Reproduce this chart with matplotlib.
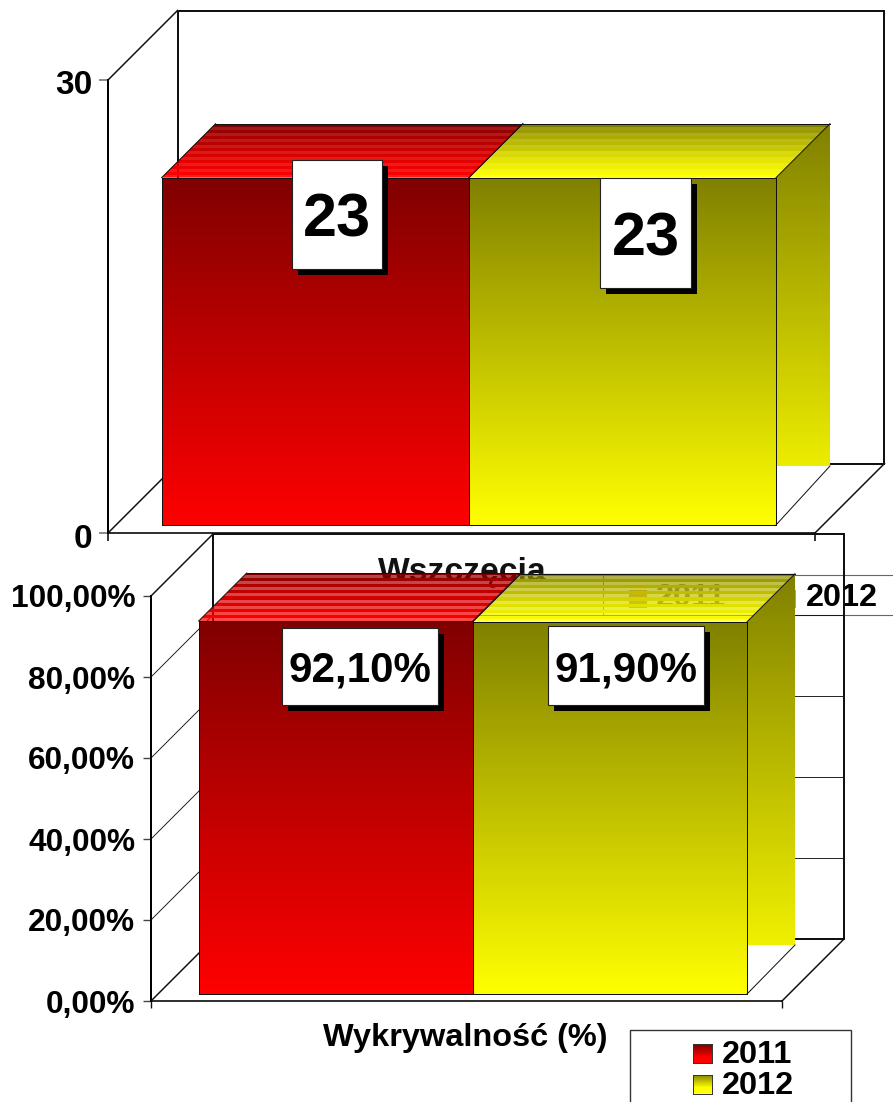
import numpy as np
import matplotlib
matplotlib.use("Agg")
import matplotlib.pyplot as plt
from matplotlib.colors import to_rgb
from matplotlib.patches import Polygon, Rectangle
from matplotlib.transforms import Affine2D

# ---- data ----
years = ["2011", "2012"]
top_category = "Wszczęcia"
top_values = [23, 23]
top_ticks = [0, 30]
top_tick_labels = ["0", "30"]
bottom_category = "Wykrywalność (%)"
bottom_values = [92.1, 91.9]
bottom_ticks = [0, 20, 40, 60, 80, 100]
bottom_tick_labels = ["0,00%", "20,00%", "40,00%", "60,00%", "80,00%", "100,00%"]
dark_colors = ["#800000", "#808000"]
bright_colors = ["#ff0000", "#ffff00"]

W, H = 893, 1102
plt.rcParams["font.family"] = ["Liberation Sans", "DejaVu Sans"]
plt.rcParams["font.weight"] = "bold"
fig = plt.figure(figsize=(W / 100, H / 100), dpi=100, facecolor="white")
px = Affine2D().scale(1 / W, -1 / H).translate(0, 1) + fig.transFigure
PT = 0.72


def make_axes(left, right, y_zero, y_top, ymax, z):
    ax = fig.add_axes([left / W, 1 - y_zero / H, (right - left) / W, (y_zero - y_top) / H])
    ax.set_xlim(0, 1)
    ax.set_ylim(0, ymax)
    ax.patch.set_alpha(0)
    ax.set_zorder(z)
    for s in ["top", "right"]:
        ax.spines[s].set_visible(False)
    ax.spines["left"].set_linewidth(2 * PT)
    ax.spines["bottom"].set_linewidth(1.6 * PT)
    ax.sx = 1 / (right - left)
    ax.sy = ymax / (y_zero - y_top)
    return ax


def pt(ax, x, v, d=0, dy=None):
    """Data position pushed back by d pixels of chart depth."""
    return (x + d * ax.sx, v + (d if dy is None else dy) * ax.sy)


def gradient(ax, pts, c0, c1, grad=None, row_px=None, stripes=None, z=3, power=1.0):
    pts = np.array(pts)
    poly = Polygon(pts, closed=True, fc="none", ec="none", zorder=z)
    ax.add_patch(poly)
    x0, x1 = pts[:, 0].min(), pts[:, 0].max()
    y0, y1 = pts[:, 1].min(), pts[:, 1].max()
    if grad is None:
        grad = (y0, y1)
    n = max(2, int(round((y1 - y0) / ax.sy / (row_px or 1))))
    rows = np.linspace(y1, y0, n)
    t = np.clip((grad[1] - rows) / (grad[1] - grad[0]), 0, 1)
    if row_px:
        t = np.round(t * n) / n
    t = t ** power
    a, b = np.array(to_rgb(c0)), np.array(to_rgb(c1))
    img = np.ones((n, 1, 4))
    img[:, 0, :3] = a + (b - a) * t[:, None]
    if stripes is not None:
        img[1::2, 0, 3] = stripes
    im = ax.imshow(img, extent=(x0, x1, y0, y1), aspect="auto", origin="upper",
                   interpolation="nearest", zorder=z)
    im.set_clip_box(fig.bbox)
    im.set_clip_path(poly)
    ax.set_xlim(0, 1)
    ax.set_ylim(0, ax.ymax_)


def line(ax, a, b, lw=1.0, c="#111111", z=2):
    ax.plot([a[0], b[0]], [a[1], b[1]], color=c, lw=lw * PT, clip_on=False, zorder=z,
            solid_capstyle="projecting")


def chart(ax, values, ymax, wall, floor_d, top_d, side_d, grid_ticks, stripes):
    ax.ymax_ = ymax
    # walls
    line(ax, pt(ax, 0, ymax), pt(ax, 0, ymax, wall), 1.5)
    line(ax, pt(ax, 0, ymax, wall), pt(ax, 1, ymax, wall), 2)
    line(ax, pt(ax, 0, ymax, wall), pt(ax, 0, 0, wall), 2)
    line(ax, pt(ax, 1, ymax, wall), pt(ax, 1, 0, wall), 2)
    line(ax, pt(ax, 0, 0, wall), pt(ax, 1, 0, wall), 2)
    line(ax, pt(ax, 0, 0), pt(ax, 0, 0, wall), 1.5)
    line(ax, pt(ax, 1, 0), pt(ax, 1, 0, wall), 1.5)
    for g in grid_ticks:
        line(ax, pt(ax, 0, g), pt(ax, 0, g, wall), 0.9)
        line(ax, pt(ax, 0, g, wall), pt(ax, 1, g, wall), 0.9)
    # bars
    width = 0.4345
    for i, v in enumerate(values):
        xl = 0.5 - width + i * width - 0.001
        xr = xl + width
        d, t = floor_d, floor_d + top_d
        gradient(ax, [pt(ax, xl, v, d), pt(ax, xr, v, d), pt(ax, xr, v, t), pt(ax, xl, v, t)],
                 dark_colors[i], bright_colors[i], row_px=3, stripes=stripes, z=3, power=0.7)
        gradient(ax, [pt(ax, xl, 0, d), pt(ax, xr, 0, d), pt(ax, xr, v, d), pt(ax, xl, v, d)],
                 dark_colors[i], bright_colors[i], z=4)
        line(ax, pt(ax, xl, 0, d), pt(ax, xr, 0, d), 1, z=5)
        line(ax, pt(ax, xl, 0, d), pt(ax, xl, v, d), 1, z=5)
        line(ax, pt(ax, xr, 0, d), pt(ax, xr, v, d), 1, z=5)
        line(ax, pt(ax, xl, v, d), pt(ax, xr, v, d), 1, z=5)
        line(ax, pt(ax, xl, v, t), pt(ax, xr, v, t), 1, z=5)
        line(ax, pt(ax, xl, v, d), pt(ax, xl, v, t), 1, z=5)
        line(ax, pt(ax, xr, v, d), pt(ax, xr, v, t), 1, z=5)
        if i == len(values) - 1:
            base = pt(ax, xr, 0, d)[1] + side_d * ax.sy
            gradient(ax, [pt(ax, xr, v, d), pt(ax, xr, v, t), (pt(ax, xr, v, t)[0], base),
                          (pt(ax, xr, v, d)[0], base)],
                     dark_colors[i], bright_colors[i],
                     grad=(pt(ax, xr, 0, d)[1], pt(ax, xr, v, t)[1]), z=3)
            line(ax, pt(ax, xr, 0, d), (pt(ax, xr, v, t)[0], base), 1, z=5)


def label(ax, text, box, fs):
    x0, y0, x1, y1 = box
    ax.add_patch(Rectangle((x0 + 6, y0 + 6), x1 - x0, y1 - y0, transform=px, fc="black", ec="none",
                           zorder=8, clip_on=False))
    ax.add_patch(Rectangle((x0, y0), x1 - x0, y1 - y0, transform=px, fc="white", ec="#222222",
                           lw=0.8, zorder=9, clip_on=False))
    ax.text((x0 + x1) / 2, (y0 + y1) / 2, text, transform=px, ha="center", va="center_baseline",
            fontsize=fs, fontweight="bold", color="black", zorder=10, clip_on=False)


# ---- top chart ----
ax1 = make_axes(108, 815, 533, 80, 30, 1)
ax1.set_xticks([0, 1], ["", ""])
ax1.set_yticks(top_ticks, top_tick_labels, fontsize=24)
ax1.tick_params(axis="y", length=6.5, width=1.2, color="#777777", pad=4.5)
ax1.tick_params(axis="x", length=5.5, width=1.2, color="#111111")
for tl in ax1.get_yticklabels():
    tl.set_transform(tl.get_transform() + Affine2D().translate(0, -2.5))
chart(ax1, top_values, 30, 69.5, 8, 54, 59, [], 0.9)
label(ax1, f"{top_values[0]}", (292, 160, 382, 269), 44)
label(ax1, f"{top_values[1]}", (600, 178, 691, 288), 44)
ax1.text(462, 572, top_category, transform=px, ha="center", va="center", fontsize=24.2,
         color="#111111", zorder=1)
# the upper chart's legend, lying under the lower chart
ax1.add_patch(Rectangle((603, 575), 300, 40, transform=px, fc="white", ec="#666666", lw=0.8,
                        zorder=0.5, clip_on=False))
ax1.add_patch(Rectangle((629, 590), 18, 18, transform=px, fc="#c08040", ec="none", zorder=0.6,
                        clip_on=False))
ax1.text(656, 598, years[0], transform=px, ha="left", va="center", fontsize=23.3, color="#555555",
         zorder=1)
ax1.add_patch(Rectangle((778, 590), 18, 18, transform=px, fc="#a0a0a0", ec="none", zorder=0.6,
                        clip_on=False))
ax1.text(806, 598, years[1], transform=px, ha="left", va="center", fontsize=23.3, color="black",
         zorder=6)

# ---- bottom chart ----
ax2 = make_axes(151, 782, 1001, 596, 100, 2)
ax2.set_xticks([0, 1], ["", ""])
ax2.set_yticks(bottom_ticks, bottom_tick_labels, fontsize=22.8)
ax2.tick_params(axis="y", length=5.8, width=1.0, color="#444444", pad=5.5)
ax2.tick_params(axis="x", length=5, width=1.0, color="#111111")
chart(ax2, bottom_values, 100, 62, 7, 48, 49, bottom_ticks[1:-1], 0.72)
fmt = lambda v: f"{v:.2f}%".replace(".", ",")
label(ax2, fmt(bottom_values[0]), (282, 628, 438, 705), 30.3)
label(ax2, fmt(bottom_values[1]), (548, 626, 704, 705), 30.3)
ax2.text(465, 1038, bottom_category, transform=px, ha="center", va="center", fontsize=23.4,
         color="black")

# ---- legend of the lower chart ----
ax2.add_patch(Rectangle((630, 1030), 221, 90, transform=px, fc="white", ec="#333333", lw=1,
                        clip_on=False, zorder=6))
for i, yr in enumerate(years):
    yc = 1053 + 31 * i
    swatch = np.ones((19, 1, 3))
    a, b = np.array(to_rgb(dark_colors[i])), np.array(to_rgb(bright_colors[i]))
    for r in range(19):
        swatch[r, 0] = a + (b - a) * min(1, r / 13)
    sax = fig.add_axes([693 / W, 1 - (yc + 9.5) / H, 19 / W, 19 / H], zorder=7)
    sax.imshow(swatch, aspect="auto", interpolation="bilinear")
    sax.set_xticks([])
    sax.set_yticks([])
    for s in sax.spines.values():
        s.set_linewidth(0.7)
        s.set_color("#333333")
    ax2.text(722, yc + 2, yr, transform=px, ha="left", va="center", fontsize=23.4, color="black",
             zorder=8)

fig.savefig("out.png", dpi=100, facecolor="white")
